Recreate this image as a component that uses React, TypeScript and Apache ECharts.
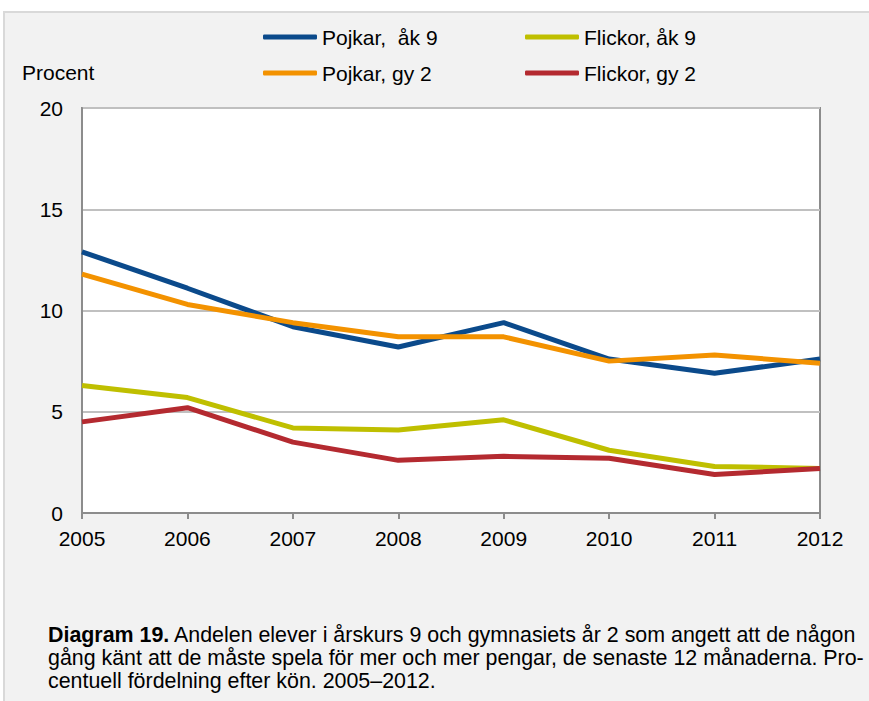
import React, { useEffect, useRef } from "react";
import * as echarts from "echarts";

const years = ["2005", "2006", "2007", "2008", "2009", "2010", "2011", "2012"];
const pojkarAk9 = [12.9, 11.1, 9.2, 8.2, 9.4, 7.6, 6.9, 7.6];
const flickorAk9 = [6.3, 5.7, 4.2, 4.1, 4.6, 3.1, 2.3, 2.2];
const pojkarGy2 = [11.8, 10.3, 9.4, 8.7, 8.7, 7.5, 7.8, 7.4];
const flickorGy2 = [4.5, 5.2, 3.5, 2.6, 2.8, 2.7, 1.9, 2.2];

const seriesNames = ["Pojkar,  åk 9", "Flickor, åk 9", "Pojkar, gy 2", "Flickor, gy 2"];
const seriesColors = ["#0b4a8b", "#bfbf00", "#f39200", "#b42a30"];
const seriesData = [pojkarAk9, flickorAk9, pojkarGy2, flickorGy2];

const yAxisLabel = "Procent";
const captionBold = "Diagram 19.";
const captionLines = [
  " Andelen elever i årskurs 9 och gymnasiets år 2 som angett att de någon",
  "gång känt att de måste spela för mer och mer pengar, de senaste 12 månaderna. Pro-",
  "centuell fördelning efter kön. 2005–2012.",
];

const FONT = "'Liberation Sans', Arial, sans-serif";
const FS = 21;
const CAP_FS = 21.4;

export default function App() {
  const ref = useRef<HTMLDivElement>(null);
  useEffect(() => {
    if (!ref.current) return;
    const chart = echarts.init(ref.current, null, { renderer: "svg" });
    const legendPos = [
      { left: 263, top: 26.5 },
      { left: 525, top: 26.5 },
      { left: 263, top: 62.5 },
      { left: 525, top: 62.5 },
    ];
    chart.setOption({
      animation: false,
      backgroundColor: "#ffffff",
      textStyle: { fontFamily: FONT },
      graphic: [
        {
          type: "rect",
          z: -10,
          silent: true,
          shape: { x: 4, y: 12, width: 880, height: 700 },
          style: { fill: "#f2f2f2", stroke: "#d9d9d9", lineWidth: 2 },
        },
        {
          type: "text",
          left: 22,
          top: 62,
          style: { text: yAxisLabel, font: `${FS}px ${FONT}`, fill: "#000" },
        },
        {
          type: "text",
          left: 48,
          top: 623.5,
          style: {
            text:
              `{b|${captionBold}}` + captionLines[0] + "\n" + captionLines[1] + "\n" + captionLines[2],
            font: `${CAP_FS}px ${FONT}`,
            fill: "#000",
            lineHeight: 23,
            rich: {
              b: { fontWeight: "bold", fontSize: CAP_FS, fontFamily: FONT, fill: "#000", lineHeight: 23 },
            },
          },
        },
      ],
      legend: seriesNames.map((n, i) => ({
        data: [n],
        left: legendPos[i].left,
        top: legendPos[i].top,
        padding: 0,
        icon: "roundRect",
        itemWidth: 54,
        itemHeight: 5,
        selectedMode: false,
        textStyle: { fontSize: FS, color: "#000", fontFamily: FONT },
      })),
      grid: {
        left: 82,
        top: 108,
        right: 49,
        bottom: 188,
        show: true,
        backgroundColor: "#ffffff",
        borderColor: "#8c8c8c",
        borderWidth: 2,
      },
      xAxis: {
        type: "category",
        data: years,
        boundaryGap: false,
        axisLine: { lineStyle: { color: "#8c8c8c", width: 2 } },
        axisTick: { show: true, length: 6, lineStyle: { color: "#8c8c8c", width: 2 } },
        axisLabel: { fontSize: FS, color: "#000", margin: 15, fontFamily: FONT },
        splitLine: { show: false },
      },
      yAxis: {
        type: "value",
        min: 0,
        max: 20,
        interval: 5,
        axisLine: { show: true, lineStyle: { color: "#8c8c8c", width: 2 } },
        axisTick: { show: false },
        axisLabel: { fontSize: FS, color: "#000", margin: 19, fontFamily: FONT },
        splitLine: { lineStyle: { color: "#c0c0c0", width: 2 } },
      },
      series: seriesNames.map((n, i) => ({
        name: n,
        type: "line",
        data: seriesData[i],
        symbol: "none",
        color: seriesColors[i],
        lineStyle: { width: 5, color: seriesColors[i] },
        itemStyle: { color: seriesColors[i] },
      })),
    });
    return () => chart.dispose();
  }, []);
  return (
    <div
      ref={ref}
      style={{ position: "absolute", left: 0, top: 0, width: 869, height: 701 }}
    />
  );
}
